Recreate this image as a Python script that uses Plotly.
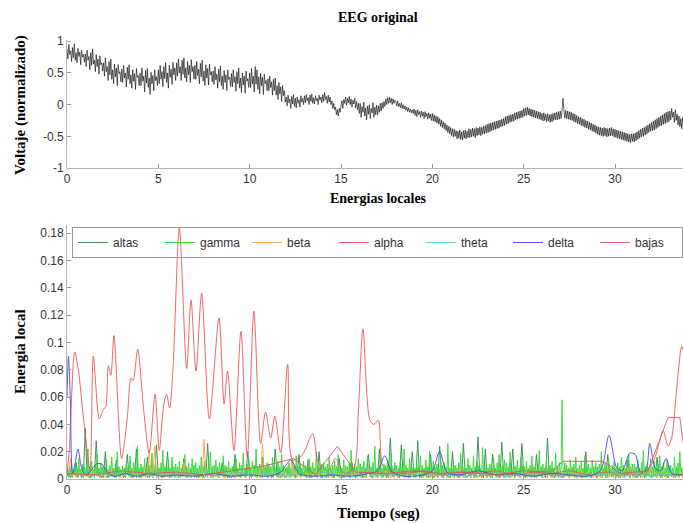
import plotly.graph_objects as go

# ---------------- data ----------------
# EEG original (normalised voltage), one row per second, sampled every 0.05 s
eeg_dt = 0.05
eeg = [
    0.88, 0.72, 0.95, 0.79, 0.85, 0.68, 0.90, 0.74, 0.96, 0.70, 0.82, 0.66, 0.89, 0.76, 0.83, 0.63, 0.86, 0.75, 0.79, 0.67,
    0.80, 0.60, 0.86, 0.70, 0.76, 0.55, 0.82, 0.62, 0.88, 0.64, 0.70, 0.52, 0.79, 0.60, 0.72, 0.48, 0.77, 0.63, 0.66, 0.53,
    0.66, 0.45, 0.74, 0.52, 0.60, 0.38, 0.68, 0.47, 0.72, 0.40, 0.55, 0.33, 0.64, 0.44, 0.58, 0.30, 0.63, 0.49, 0.52, 0.36,
    0.56, 0.35, 0.62, 0.42, 0.50, 0.28, 0.59, 0.40, 0.63, 0.33, 0.47, 0.26, 0.55, 0.37, 0.49, 0.24, 0.57, 0.43, 0.46, 0.30,
    0.50, 0.30, 0.58, 0.37, 0.45, 0.20, 0.54, 0.34, 0.57, 0.27, 0.42, 0.16, 0.51, 0.33, 0.46, 0.22, 0.55, 0.38, 0.44, 0.30,
    0.55, 0.33, 0.62, 0.40, 0.52, 0.28, 0.60, 0.41, 0.66, 0.35, 0.50, 0.26, 0.62, 0.43, 0.56, 0.32, 0.67, 0.47, 0.58, 0.38,
    0.66, 0.45, 0.72, 0.50, 0.60, 0.38, 0.70, 0.48, 0.74, 0.42, 0.58, 0.36, 0.68, 0.47, 0.62, 0.35, 0.71, 0.52, 0.60, 0.40,
    0.62, 0.40, 0.68, 0.46, 0.56, 0.33, 0.65, 0.44, 0.70, 0.37, 0.53, 0.30, 0.63, 0.42, 0.57, 0.31, 0.64, 0.47, 0.52, 0.36,
    0.53, 0.32, 0.60, 0.39, 0.48, 0.26, 0.56, 0.36, 0.61, 0.30, 0.45, 0.24, 0.54, 0.35, 0.47, 0.22, 0.55, 0.40, 0.43, 0.29,
    0.49, 0.28, 0.55, 0.35, 0.44, 0.21, 0.52, 0.33, 0.58, 0.26, 0.42, 0.19, 0.50, 0.31, 0.45, 0.18, 0.53, 0.37, 0.41, 0.27,
    0.50, 0.27, 0.57, 0.33, 0.45, 0.20, 0.60, 0.32, 0.55, 0.24, 0.44, 0.17, 0.49, 0.30, 0.43, 0.16, 0.48, 0.33, 0.38, 0.22,
    0.41, 0.22, 0.45, 0.27, 0.36, 0.15, 0.40, 0.22, 0.42, 0.15, 0.30, 0.08, 0.35, 0.17, 0.28, 0.05, 0.30, 0.14, 0.22, 0.04,
    0.12, -0.02, 0.15, 0.03, 0.09, -0.06, 0.13, 0.01, 0.16, -0.03, 0.10, -0.05, 0.12, 0.02, 0.08, -0.04, 0.14, 0.04, 0.10, 0.00,
    0.14, 0.03, 0.16, 0.06, 0.11, 0.00, 0.15, 0.05, 0.17, 0.02, 0.11, 0.01, 0.14, 0.06, 0.10, 0.00, 0.15, 0.07, 0.12, 0.03,
    0.16, 0.05, 0.19, 0.08, 0.13, 0.02, 0.15, 0.04, 0.12, 0.00, 0.06, -0.06, 0.02, -0.08, -0.04, -0.16, -0.08, -0.18, -0.06, -0.12,
    -0.02, 0.06, -0.06, 0.08, 0.02, 0.12, -0.01, 0.10, 0.03, 0.13, 0.00, 0.09, -0.04, 0.07, 0.01, 0.10, -0.05, 0.05, -0.08, 0.02,
    -0.14, 0.02, -0.20, -0.03, -0.12, 0.04, -0.18, -0.05, -0.24, -0.02, -0.15, 0.00, -0.22, -0.06, -0.13, 0.03, -0.20, -0.04, -0.16, -0.01,
    -0.16, -0.02, -0.12, 0.02, -0.10, 0.03, -0.06, 0.05, -0.03, 0.09, 0.00, 0.11, 0.02, 0.12, 0.03, 0.10, 0.00, 0.09, 0.02, 0.07,
    0.05, -0.02, 0.06, -0.03, 0.02, -0.05, 0.03, -0.06, 0.00, -0.07, -0.02, -0.09, -0.04, -0.11, -0.05, -0.12, -0.07, -0.13, -0.08, -0.14,
    -0.07, -0.17, -0.09, -0.19, -0.08, -0.16, -0.11, -0.20, -0.10, -0.18, -0.12, -0.22, -0.11, -0.19, -0.14, -0.23, -0.13, -0.21, -0.15, -0.25,
    -0.14, -0.26, -0.16, -0.27, -0.18, -0.29, -0.19, -0.31, -0.22, -0.34, -0.24, -0.36, -0.27, -0.38, -0.29, -0.41, -0.32, -0.44, -0.34, -0.46,
    -0.36, -0.49, -0.38, -0.51, -0.39, -0.50, -0.41, -0.54, -0.42, -0.53, -0.40, -0.55, -0.43, -0.56, -0.41, -0.53, -0.40, -0.54, -0.42, -0.52,
    -0.38, -0.52, -0.39, -0.51, -0.37, -0.50, -0.38, -0.52, -0.36, -0.49, -0.37, -0.48, -0.35, -0.49, -0.36, -0.47, -0.34, -0.46, -0.33, -0.45,
    -0.31, -0.44, -0.30, -0.43, -0.29, -0.41, -0.28, -0.40, -0.27, -0.39, -0.26, -0.38, -0.25, -0.37, -0.24, -0.35, -0.23, -0.34, -0.22, -0.33,
    -0.19, -0.31, -0.18, -0.30, -0.17, -0.28, -0.16, -0.27, -0.15, -0.26, -0.13, -0.24, -0.12, -0.23, -0.11, -0.22, -0.10, -0.21, -0.09, -0.20,
    -0.06, -0.18, -0.05, -0.17, -0.04, -0.16, -0.06, -0.18, -0.07, -0.19, -0.08, -0.20, -0.09, -0.21, -0.10, -0.22, -0.11, -0.23, -0.12, -0.24,
    -0.14, -0.26, -0.13, -0.25, -0.15, -0.27, -0.14, -0.26, -0.16, -0.28, -0.15, -0.27, -0.14, -0.25, -0.13, -0.24, -0.12, -0.24, -0.11, -0.23,
    -0.10, -0.22, -0.09, 0.10, -0.08, -0.21, -0.09, -0.22, -0.10, -0.23, -0.11, -0.24, -0.12, -0.25, -0.14, -0.27, -0.15, -0.28, -0.17, -0.30,
    -0.19, -0.31, -0.20, -0.33, -0.22, -0.34, -0.23, -0.36, -0.25, -0.37, -0.26, -0.39, -0.28, -0.40, -0.29, -0.42, -0.31, -0.43, -0.32, -0.45,
    -0.34, -0.47, -0.35, -0.48, -0.36, -0.49, -0.37, -0.50, -0.36, -0.49, -0.37, -0.51, -0.38, -0.50, -0.37, -0.49, -0.36, -0.49, -0.38, -0.51,
    -0.39, -0.52, -0.40, -0.53, -0.41, -0.54, -0.42, -0.55, -0.43, -0.56, -0.44, -0.57, -0.45, -0.58, -0.46, -0.59, -0.47, -0.60, -0.46, -0.58,
    -0.46, -0.59, -0.45, -0.57, -0.43, -0.55, -0.41, -0.53, -0.39, -0.51, -0.37, -0.50, -0.36, -0.48, -0.34, -0.46, -0.32, -0.44, -0.30, -0.42,
    -0.28, -0.41, -0.26, -0.40, -0.24, -0.38, -0.22, -0.36, -0.20, -0.34, -0.18, -0.33, -0.16, -0.31, -0.14, -0.30, -0.12, -0.28, -0.11, -0.27,
    -0.10, -0.24, -0.06, -0.20, -0.12, -0.28, -0.08, -0.25, -0.15, -0.32, -0.18, -0.35, -0.22, -0.38, -0.20, -0.36, -0.24, -0.40, -0.26, -0.38,
]

# local energies, in thousandths
gamma_dt = 0.05
gamma_milli = [
    2, 7, 1, 9, 3, 12, 1, 6, 4, 10, 2, 8, 1, 15, 3, 7, 2, 11, 1, 9,
    3, 8, 2, 22, 1, 9, 4, 13, 2, 7, 1, 10, 3, 18, 2, 8, 1, 12, 4, 9,
    1, 9, 3, 14, 2, 7, 1, 10, 4, 16, 2, 8, 3, 11, 1, 20, 2, 9, 1, 7,
    4, 10, 2, 8, 1, 13, 3, 9, 2, 17, 1, 8, 4, 12, 2, 9, 1, 24, 3, 8,
    2, 11, 1, 9, 3, 15, 2, 8, 1, 12, 4, 10, 2, 19, 1, 7, 3, 11, 2, 9,
    1, 8, 3, 12, 2, 21, 1, 9, 4, 10, 2, 14, 1, 8, 3, 16, 2, 9, 1, 11,
    3, 9, 2, 13, 1, 8, 4, 11, 2, 18, 1, 9, 3, 12, 2, 8, 1, 15, 4, 10,
    2, 12, 1, 8, 3, 10, 2, 16, 1, 9, 4, 13, 2, 8, 1, 11, 3, 20, 2, 9,
    1, 10, 4, 14, 2, 9, 1, 12, 3, 8, 2, 17, 1, 10, 4, 9, 2, 13, 1, 8,
    3, 9, 2, 11, 1, 15, 3, 8, 2, 12, 1, 10, 4, 19, 2, 8, 1, 11, 3, 14,
    2, 8, 1, 13, 4, 10, 2, 22, 1, 9, 3, 11, 2, 8, 1, 14, 4, 9, 2, 12,
    1, 11, 3, 9, 2, 16, 1, 10, 4, 8, 2, 13, 1, 9, 3, 18, 2, 10, 1, 8,
    4, 9, 2, 12, 1, 8, 3, 14, 2, 10, 1, 17, 4, 9, 2, 11, 1, 8, 3, 13,
    2, 10, 1, 8, 3, 15, 2, 9, 1, 12, 4, 8, 2, 20, 1, 10, 3, 9, 2, 11,
    1, 12, 4, 9, 2, 11, 1, 16, 3, 8, 2, 10, 1, 13, 4, 9, 2, 18, 1, 8,
    3, 8, 2, 14, 1, 10, 4, 9, 2, 12, 1, 21, 3, 8, 2, 11, 1, 9, 4, 15,
    2, 11, 1, 9, 3, 13, 2, 8, 1, 17, 4, 10, 2, 9, 1, 12, 3, 24, 2, 8,
    1, 9, 3, 16, 2, 8, 1, 11, 4, 10, 2, 14, 1, 9, 3, 19, 2, 8, 1, 12,
    4, 10, 2, 8, 1, 13, 3, 9, 2, 22, 1, 10, 4, 8, 2, 15, 1, 11, 3, 9,
    2, 8, 1, 12, 4, 9, 2, 17, 1, 10, 3, 8, 2, 14, 1, 9, 4, 20, 2, 11,
    1, 13, 3, 9, 2, 11, 1, 8, 4, 16, 2, 10, 1, 12, 3, 9, 2, 26, 1, 8,
    3, 9, 2, 14, 1, 10, 4, 8, 2, 12, 1, 19, 3, 9, 2, 11, 1, 8, 4, 15,
    2, 10, 1, 8, 3, 17, 2, 9, 1, 13, 4, 10, 2, 8, 1, 23, 3, 9, 2, 12,
    1, 8, 4, 11, 2, 9, 1, 15, 3, 8, 2, 12, 1, 18, 4, 9, 2, 10, 1, 14,
    3, 12, 2, 9, 1, 20, 3, 8, 2, 11, 1, 9, 4, 14, 2, 8, 1, 16, 3, 10,
    2, 9, 1, 13, 4, 8, 2, 10, 1, 17, 3, 9, 2, 12, 1, 8, 4, 21, 2, 9,
    1, 11, 3, 8, 2, 15, 1, 9, 4, 10, 2, 13, 1, 8, 3, 19, 2, 9, 1, 12,
    4, 8, 58, 9, 1, 12, 3, 10, 2, 8, 1, 14, 4, 9, 2, 11, 1, 16, 3, 8,
    2, 10, 1, 13, 3, 8, 2, 17, 1, 9, 4, 11, 2, 8, 1, 14, 3, 9, 2, 12,
    1, 9, 4, 11, 2, 20, 1, 8, 3, 12, 2, 9, 1, 15, 4, 8, 2, 10, 1, 13,
    3, 8, 2, 12, 1, 9, 4, 16, 2, 10, 1, 8, 3, 13, 2, 18, 1, 9, 4, 11,
    2, 11, 1, 9, 3, 14, 2, 8, 1, 12, 4, 21, 2, 9, 1, 10, 3, 8, 2, 15,
    1, 9, 3, 13, 2, 8, 1, 11, 4, 17, 2, 9, 1, 12, 3, 8, 2, 14, 1, 10,
    4, 10, 2, 8, 1, 16, 3, 9, 2, 12, 1, 20, 4, 8, 2, 11, 1, 9, 3, 13,
]

altas_dt = 0.1
altas_milli = [
    2, 4, 1, 5, 3, 12, 2, 4, 1, 3,   37, 2, 5, 1, 4, 3, 28, 2, 5, 1,
    3, 20, 1, 4, 2, 5, 1, 14, 3, 2,   4, 1, 3, 18, 2, 5, 1, 3, 22, 2,
    1, 4, 2, 3, 16, 1, 5, 2, 4, 25,   2, 3, 1, 5, 2, 20, 3, 1, 4, 2,
    3, 1, 4, 2, 15, 3, 1, 5, 2, 4,    2, 5, 1, 3, 4, 1, 2, 26, 3, 1,
    4, 2, 3, 1, 5, 12, 2, 4, 1, 3,    1, 3, 18, 2, 4, 1, 5, 2, 3, 20,
    3, 1, 4, 2, 5, 3, 1, 16, 2, 4,    2, 4, 1, 3, 22, 2, 5, 1, 4, 3,
    1, 5, 3, 2, 4, 1, 3, 18, 2, 5,    4, 2, 14, 1, 3, 5, 2, 4, 20, 1,
    2, 3, 1, 5, 2, 4, 1, 3, 2, 15,    3, 1, 4, 2, 5, 1, 12, 3, 1, 4,
    2, 5, 1, 3, 4, 18, 2, 1, 5, 3,    1, 22, 3, 2, 4, 1, 5, 30, 2, 3,
    4, 2, 1, 25, 3, 5, 2, 1, 4, 20,   2, 3, 28, 1, 4, 2, 5, 3, 1, 18,
    3, 1, 4, 2, 24, 3, 1, 5, 2, 4,    1, 20, 2, 3, 1, 4, 2, 26, 3, 1,
    4, 2, 5, 1, 3, 31, 2, 4, 1, 22,   2, 3, 1, 18, 4, 2, 5, 1, 27, 3,
    1, 4, 2, 3, 22, 1, 5, 2, 4, 26,   3, 1, 4, 2, 5, 3, 1, 18, 2, 4,
    2, 5, 1, 30, 3, 2, 4, 1, 5, 2,    4, 1, 3, 2, 5, 1, 3, 2, 4, 1,
    2, 4, 1, 3, 20, 2, 5, 1, 3, 4,    1, 3, 5, 2, 4, 1, 18, 3, 2, 5,
    3, 2, 4, 1, 5, 3, 2, 14, 1, 4,    2, 4, 1, 3, 2, 5, 1, 4, 3, 2,
    1, 3, 2, 16, 4, 1, 5, 2, 3, 1,    4, 2, 3, 1, 5, 2, 4, 1, 3, 2,
]

beta_dt = 0.1
beta_milli = [
    3, 6, 15, 2, 4, 1, 5, 3, 2, 4,   2, 4, 1, 5, 3, 6, 2, 4, 1, 3,
    4, 1, 3, 6, 2, 5, 1, 3, 4, 2,    1, 5, 2, 4, 3, 1, 6, 2, 5, 3,
    3, 2, 5, 1, 4, 21, 3, 2, 24, 1,  2, 4, 1, 6, 3, 2, 5, 1, 4, 3,
    5, 1, 3, 2, 12, 4, 1, 6, 2, 3,   1, 4, 2, 5, 1, 29, 3, 2, 4, 1,
    4, 2, 5, 1, 3, 2, 6, 1, 4, 2,    2, 5, 1, 3, 4, 1, 3, 5, 2, 4,
    3, 1, 4, 2, 5, 3, 1, 26, 2, 4,   1, 3, 5, 2, 4, 1, 3, 2, 5, 1,
    4, 2, 3, 14, 2, 5, 1, 4, 3, 2,   2, 5, 1, 3, 4, 2, 6, 1, 3, 4,
    3, 1, 4, 2, 5, 1, 3, 4, 2, 5,    1, 4, 2, 6, 3, 1, 5, 2, 4, 1,
    4, 2, 5, 1, 3, 8, 2, 4, 1, 3,    2, 5, 1, 4, 2, 3, 6, 1, 4, 2,
    3, 1, 4, 2, 5, 1, 3, 7, 2, 4,    1, 4, 2, 5, 3, 1, 4, 2, 6, 1,
    4, 2, 3, 1, 5, 3, 2, 6, 1, 3,    2, 5, 1, 4, 2, 7, 3, 1, 4, 2,
    3, 1, 5, 2, 4, 1, 6, 2, 3, 5,    1, 4, 2, 6, 3, 1, 5, 2, 4, 1,
    4, 2, 5, 1, 3, 6, 2, 4, 1, 3,    2, 5, 1, 3, 4, 2, 7, 1, 3, 4,
    3, 1, 4, 2, 5, 1, 3, 6, 2, 4,    1, 5, 2, 4, 3, 1, 5, 2, 6, 1,
    4, 2, 6, 1, 3, 5, 2, 4, 1, 3,    2, 4, 1, 5, 3, 2, 6, 1, 4, 2,
    3, 1, 4, 2, 5, 1, 3, 8, 2, 4,    1, 5, 2, 4, 3, 1, 5, 2, 3, 6,
    4, 2, 5, 1, 3, 6, 2, 4, 1, 3,    2, 4, 1, 5, 3, 2, 6, 1, 4, 2,
]

theta_dt = 0.5
theta_milli = [
    4, 8, 6, 3, 5, 2, 4, 3, 5, 2,   3, 5, 2, 4, 3, 6, 2, 4, 3, 5,
    2, 4, 3, 5, 2, 4, 3, 2, 5, 3,   4, 2, 3, 5, 2, 4, 3, 2, 4, 3,
    5, 2, 4, 3, 2, 5, 3, 4, 2, 3,   4, 2, 3, 5, 2, 4, 3, 2, 4, 3,
    5, 2, 4, 3, 2, 4, 3, 5,
]

alpha_t = [0, 0.12, 0.42, 0.62, 0.9, 1.26, 1.44, 1.77, 1.99, 2.12, 2.26, 2.4, 2.57,
           2.99, 3.3, 3.5, 3.62, 3.87, 4.2, 4.5, 4.82, 5.05, 5.3, 5.45, 5.62, 5.8,
           6.15, 6.55, 6.79, 7.06, 7.37, 7.79, 8.32, 8.6, 8.79, 9.14, 9.52, 9.87,
           10.23, 10.6, 10.87, 11.15, 11.38, 11.7, 12.08, 12.35, 12.85, 13.45, 13.76,
           14.3, 14.7, 15.2, 15.7, 15.95, 16.2, 16.58, 16.8, 17.04, 17.3, 17.8, 18.5,
           19.5, 20.5, 21.5, 22.5, 23.5, 24.5, 25.5, 26.5, 27.5, 28.5, 29.5, 30.5,
           31.5, 32.1, 32.64, 32.9, 33.1, 33.4, 33.65, 33.8]
alpha_v = [0.004, 0.02, 0.093, 0.080, 0.045, 0.007, 0.090, 0.044, 0.051, 0.053, 0.083, 0.076, 0.105,
           0.015, 0.045, 0.074, 0.072, 0.095, 0.050, 0.019, 0.062, 0.021, 0.055, 0.062, 0.052, 0.080,
           0.184, 0.081, 0.131, 0.079, 0.136, 0.044, 0.118, 0.055, 0.079, 0.021, 0.108, 0.016,
           0.123, 0.026, 0.049, 0.030, 0.046, 0.019, 0.084, 0.014, 0.017, 0.033, 0.012,
           0.006, 0.015, 0.004, 0.008, 0.050, 0.110, 0.043, 0.040, 0.043, 0.009, 0.005, 0.004,
           0.006, 0.003, 0.005, 0.004, 0.006, 0.003, 0.005, 0.004, 0.006, 0.003, 0.005, 0.004,
           0.004, 0.013, 0.035, 0.024, 0.030, 0.070, 0.097, 0.090]

delta_t = [0, 0.08, 0.18, 0.3, 0.45, 0.6, 0.8, 1.0, 1.3, 1.6, 1.9, 2.2, 2.6, 3.2, 3.8, 4.5,
           5.2, 6.0, 7.0, 8.0, 9.0, 10.0, 11.0, 11.7, 12.25, 12.7, 13.5, 14.5, 15.5, 16.5,
           17.0, 17.4, 17.8, 18.5, 19.5, 20.0, 20.4, 20.8, 21.5, 22.5, 23.5, 24.5, 25.5,
           26.5, 27.5, 28.5, 29.2, 29.67, 30.1, 30.4, 30.8, 31.1, 31.4, 31.7, 31.9, 32.2,
           32.5, 32.8, 33.1, 33.7]
delta_v = [0.06, 0.09, 0.06, 0.004, 0.012, 0.022, 0.008, 0.003, 0.006, 0.011, 0.011, 0.005,
           0.002, 0.004, 0.002, 0.004, 0.002, 0.003, 0.002, 0.004, 0.002, 0.003, 0.002, 0.005,
           0.014, 0.004, 0.002, 0.003, 0.002, 0.004, 0.006, 0.017, 0.005, 0.002, 0.003, 0.006,
           0.020, 0.005, 0.003, 0.006, 0.003, 0.004, 0.002, 0.004, 0.003, 0.002, 0.006, 0.032,
           0.008, 0.006, 0.019, 0.018, 0.005, 0.007, 0.026, 0.008, 0.006, 0.015, 0.004, 0.003]

bajas_t = [0, 1.5, 3.0, 4.5, 6.0, 7.5, 9.0, 10.8, 12.4, 13.6, 14.8, 15.8, 17.5, 19.0,
           20.5, 22.0, 23.5, 25.0, 26.5, 27.15, 29.35, 30.3, 31.8, 32.9, 33.55, 33.8]
bajas_v = [0.004, 0.003, 0.006, 0.004, 0.005, 0.003, 0.006, 0.0095, 0.015, 0.003, 0.024,
           0.005, 0.004, 0.006, 0.004, 0.005, 0.003, 0.006, 0.005, 0.013, 0.013, 0.004,
           0.006, 0.045, 0.045, 0.02]

x_ticks = [0, 5, 10, 15, 20, 25, 30]
y1_ticks = [-1, -0.5, 0, 0.5, 1]
y1_labels = ["-1", "-0.5", "0", "0.5", "1"]
y2_ticks = [0, 0.02, 0.04, 0.06, 0.08, 0.1, 0.12, 0.14, 0.16, 0.18]
y2_labels = ["0", "0.02", "0.04", "0.06", "0.08", "0.1", "0.12", "0.14", "0.16", "0.18"]

# ---------------- figure ----------------
def times(n, dt):
    return [i * dt for i in range(n)]

def milli(vals):
    return [v / 1000 for v in vals]

fig = go.Figure()
fig.add_trace(go.Scatter(x=times(len(eeg), eeg_dt), y=eeg, mode="lines",
                         line=dict(color="black", width=0.6), showlegend=False,
                         xaxis="x", yaxis="y"))

series = [
    ("altas", times(len(altas_milli), altas_dt), milli(altas_milli), "rgb(40,140,70)", "linear"),
    ("gamma", times(len(gamma_milli), gamma_dt), milli(gamma_milli), "rgb(50,215,50)", "linear"),
    ("beta", times(len(beta_milli), beta_dt), milli(beta_milli), "rgb(255,160,70)", "linear"),
    ("alpha", alpha_t, alpha_v, "rgb(235,85,85)", "spline"),
    ("theta", times(len(theta_milli), theta_dt), milli(theta_milli), "rgb(60,215,225)", "linear"),
    ("delta", delta_t, delta_v, "rgb(70,70,225)", "spline"),
    ("bajas", bajas_t, bajas_v, "rgb(215,85,105)", "linear"),
]
for name, xs, ys, col, shape in series:
    ln = dict(color=col, width=0.9, shape=shape)
    if shape == "spline":
        ln["smoothing"] = 0.8
    fig.add_trace(go.Scatter(x=xs, y=ys, mode="lines", name=name, line=ln,
                             xaxis="x2", yaxis="y2"))

W, H = 683, 523
L = 67
def py(px):
    return 1 - px / H

tickfont = dict(family="Liberation Sans, Arial, sans-serif", size=12, color="#333")
ax_common = dict(showgrid=False, zeroline=False, showline=True, linecolor="#b5b5b5",
                 linewidth=1, ticks="inside", ticklen=4, tickcolor="#999",
                 tickfont=tickfont, automargin=False)

fig.update_layout(
    width=W, height=H, template="none",
    paper_bgcolor="white", plot_bgcolor="white",
    margin=dict(l=L, r=0, t=0, b=0),
    xaxis=dict(domain=[0, 1], anchor="y", range=[0, 33.72], tickvals=x_ticks, **ax_common),
    yaxis=dict(domain=[py(168), py(40)], anchor="x", range=[-1, 1.02],
               tickvals=y1_ticks, ticktext=y1_labels, **ax_common),
    xaxis2=dict(domain=[0, 1], anchor="y2", range=[0, 33.72], tickvals=x_ticks, **ax_common),
    yaxis2=dict(domain=[py(479), py(225)], anchor="x2", range=[0, 0.186],
                tickvals=y2_ticks, ticktext=y2_labels, **ax_common),
    legend=dict(orientation="h", x=(72 - L) / (W - L), y=py(227), xanchor="left", yanchor="top",
                bgcolor="rgba(0,0,0,0)", bordercolor="#999", borderwidth=1,
                font=dict(family="Liberation Sans, Arial, sans-serif", size=12, color="#333"),
                entrywidth=42, entrywidthmode="pixels", itemwidth=30),
)

title_font = dict(family="Liberation Serif, Times New Roman, serif", size=15, color="black")
def ann(text, x, y, angle=0, size=15):
    f = dict(title_font)
    f["size"] = size
    fig.add_annotation(text="<b>" + text + "</b>", x=x, y=y, xref="paper", yref="paper",
                       xanchor="center", yanchor="middle", showarrow=False,
                       textangle=angle, font=f)

ann("EEG original", 0.505, py(17), size=14)
ann("Energias locales", 0.505, py(199), size=14)
ann("Tiempo (seg)", 0.505, py(513), size=15)
ann("Voltaje (normalizado)", (20 - L) / (W - L), py(105), angle=-90, size=15)
ann("Energia local", (20 - L) / (W - L), py(352), angle=-90, size=15)

fig.write_html("out.html")
